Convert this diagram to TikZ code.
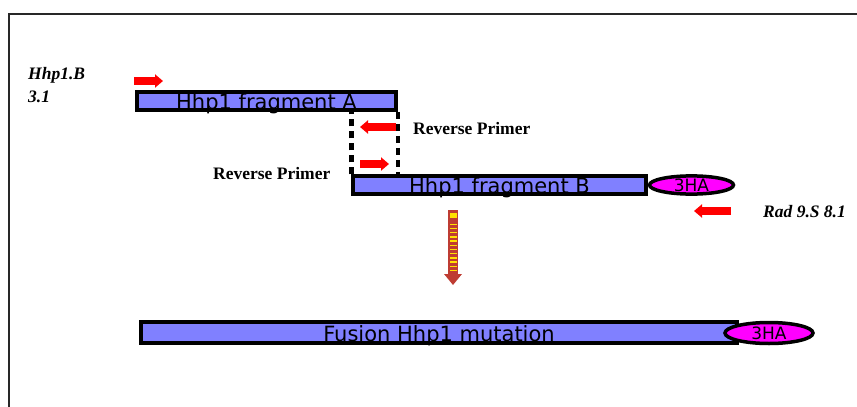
\documentclass[tikz,border=0pt]{standalone}
\usepackage{fontspec}
\setmainfont{Liberation Serif}
\newfontfamily\barfont{DejaVu Sans}
\usepackage{xcolor}
\usepackage{tikz}
\usetikzlibrary{arrows.meta, positioning, calc, shapes.geometric}
\definecolor{barblue}{RGB}{128, 128, 255}
\definecolor{tagpink}{RGB}{255, 0, 255}
\definecolor{primerred}{RGB}{255, 0, 0}
\definecolor{stepred}{RGB}{190, 60, 50}
\definecolor{stepyellow}{RGB}{255, 225, 0}
\definecolor{framegray}{RGB}{40, 40, 40}

\begin{document}
\begin{tikzpicture}[x=1pt, y=-1pt,
    fragment/.style={draw, line width=3.5pt, fill=barblue, rectangle, inner sep=0pt, minimum height=18pt, text height=16pt, text depth=0pt, font=\barfont\fontsize{21}{21}\selectfont},
    hatag/.style={draw, line width=3.5pt, fill=tagpink, ellipse, inner sep=0pt, minimum height=18pt, font=\barfont\fontsize{17}{17}\selectfont},
    primer/.style={primerred, line width=8pt, -{Triangle[length=8pt, width=13pt]}},
    primertext/.style={inner sep=0pt, anchor=base west, font=\bfseries\fontsize{17.5}{20}\selectfont},
    oligotext/.style={primertext, font=\bfseries\itshape\fontsize{17.5}{20}\selectfont}]
    \useasboundingbox (0,0) rectangle (857,407);
    \draw[framegray, line width=2pt] (8.5,407) -- (8.5,14) -- (857,14);
    % fragments and tags
    \node[fragment, minimum width=259pt] (fragA) at (266.5,101) {Hhp1 fragment A};
    \node[fragment, minimum width=293pt] (fragB) at (499.5,185) {Hhp1 fragment B};
    \node[hatag, minimum width=84pt, right=0pt of fragB] (haB) {3HA};
    \node[fragment, minimum width=596pt, minimum height=21pt, text height=18pt] (fusion) at (439,332.5) {Fusion Hhp1 mutation};
    \node[hatag, minimum width=88pt, minimum height=21pt] (haF) at (769,333) {3HA};
    \draw[line width=4.5pt, dash pattern=on 7pt off 5pt] (fragA.south east) -- (fragA.south east |- fragB.north);
    \draw[line width=4.5pt, dash pattern=on 7pt off 5pt] (fragB.north west) -- (fragB.north west |- fragA.south);
    % primers
    \coordinate (fwdA1) at (134,81);  \coordinate (fwdA2) at (163,81);
    \coordinate (revA1) at (396,127); \coordinate (revA2) at (360,127);
    \coordinate (fwdB1) at (360,164); \coordinate (fwdB2) at (389,164);
    \coordinate (revB1) at (731,211); \coordinate (revB2) at (694,211);
    \draw[primer] (fwdA1) -- (fwdA2);
    \draw[primer] (revA1) -- (revA2);
    \draw[primer] (fwdB1) -- (fwdB2);
    \draw[primer] (revB1) -- (revB2);
    \node[oligotext] (hhpB) at (28,79) {Hhp1.B};
    \node[oligotext] (hhpN) at (28,102) {3.1};
    \node[primertext] (revAtext) at (413,134) {Reverse Primer};
    \node[primertext] (revBtext) at (213,179) {Reverse Primer};
    \node[oligotext] (rad) at (763,217) {Rad 9.S 8.1};
    % fusion step arrow
    \coordinate (stepTop) at (453,210);
    \coordinate (stepTip) at (453,285);
    \fill[stepred] ($(stepTop)+(-5,0)$) rectangle ($(stepTip)+(5,-11)$);
    \fill[stepred] ($(stepTip)+(-9,-11)$) -- ($(stepTip)+(9,-11)$) -- (stepTip) -- cycle;
    \fill[stepyellow] ($(stepTop)+(-3.5,3)$) rectangle ++(7,5);
    \foreach \k in {0,...,11}
        \fill[stepyellow] ($(stepTop)+(-3.5,13.5+4.2*\k)$) rectangle ++(7,1.5);
\end{tikzpicture}
\end{document}
